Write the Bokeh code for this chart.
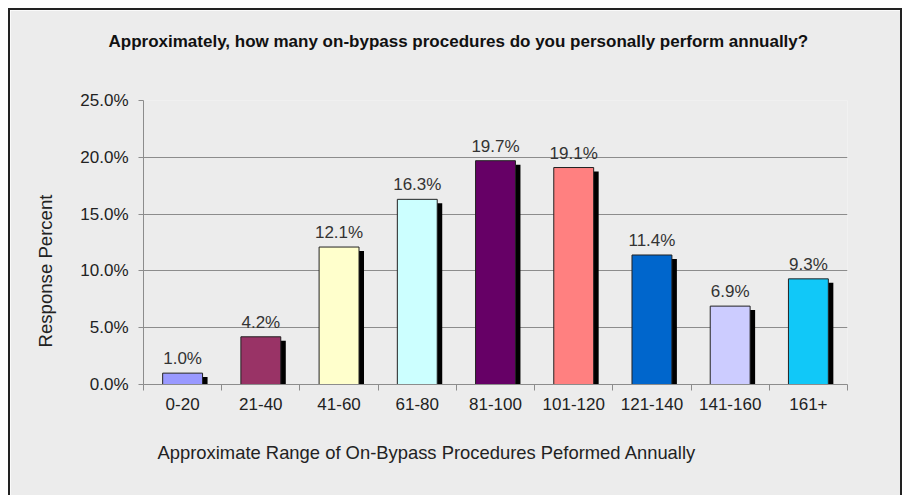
from bokeh.plotting import figure
from bokeh.models import (ColumnDataSource, Range1d, FixedTicker, PrintfTickFormatter, Title)
from bokeh.transform import dodge
from bokeh.embed import file_html
from bokeh.resources import INLINE
from bokeh.core.properties import value

categories = ["0-20", "21-40", "41-60", "61-80", "81-100", "101-120", "121-140", "141-160", "161+"]
percents = [1.0, 4.2, 12.1, 16.3, 19.7, 19.1, 11.4, 6.9, 9.3]
bar_colors = ["#9999ff", "#993366", "#ffffcc", "#ccffff", "#660066", "#ff8080", "#0066cc", "#ccccff", "#11c8f8"]
y_ticks = [0, 5, 10, 15, 20, 25]

FONT = "Liberation Sans"
BG = "#ececec"
GRID = "#8c8c8c"

n = len(categories)
centers = [i + 0.5 for i in range(n)]
bounds = list(range(n + 1))

src = ColumnDataSource(dict(xc=centers, cat=categories, pct=percents, color=bar_colors,
                            lbl=[f"{v:.1f}%" for v in percents]))

p = figure(x_range=Range1d(0, n), y_range=Range1d(0, 25), frame_width=704, frame_height=284,
           min_border_left=133, min_border_right=53, min_border_top=90, min_border_bottom=111,
           output_backend="svg", toolbar_location=None,
           background_fill_color=BG, border_fill_color=BG)
p.outline_line_color = None
p.styles = {"border-top": "2px solid #222", "border-left": "2px solid #222",
            "border-right": "2px solid #222", "margin": "8px 0 0 8px"}

p.title.text = "Approximately, how many on-bypass procedures do you personally perform annually?"
p.title.align = "left"
p.title.offset = -35
p.title.standoff = 39
p.title.text_font = FONT
p.title.text_font_size = "17px"
p.title.text_font_style = "bold"
p.title.text_color = "#111"

# blank spacer between the plot frame and the title
spacer = Title(text=" ", standoff=17, text_font=FONT, text_font_size="10px")
p.add_layout(spacer, "above")

xa = p.xaxis[0]
xa.ticker = FixedTicker(ticks=centers, minor_ticks=bounds)
xa.major_label_overrides = {c: lab for c, lab in zip(centers, categories)}
xa.axis_line_color = GRID
xa.major_tick_line_color = None
xa.minor_tick_line_color = GRID
xa.minor_tick_out = 6
xa.minor_tick_in = 0
xa.major_label_text_font = FONT
xa.major_label_text_font_size = "17px"
xa.major_label_text_color = "#222"
xa.major_label_standoff = 7

ya = p.yaxis[0]
ya.ticker = FixedTicker(ticks=y_ticks)
ya.formatter = PrintfTickFormatter(format="%.1f%%")
ya.axis_line_color = GRID
ya.major_tick_line_color = GRID
ya.major_tick_out = 5
ya.major_tick_in = 0
ya.minor_tick_line_color = None
ya.major_label_text_font = FONT
ya.major_label_text_font_size = "17px"
ya.major_label_text_color = "#222"
ya.major_label_standoff = 10

p.xgrid.grid_line_color = None
p.ygrid.grid_line_color = GRID
p.ygrid.ticker = FixedTicker(ticks=y_ticks)

# shadows
p.vbar(x=dodge("xc", 0.064), top=dodge("pct", -0.35), bottom=0, width=0.51,
       source=src, fill_color="#000000", line_color=None)
# bars
p.vbar(x="xc", top="pct", bottom=0, width=0.51, source=src,
       fill_color="color", line_color="#222", line_width=1)

p.text(x="xc", y="pct", text="lbl", source=src, text_align="center", text_baseline="bottom",
       y_offset=-5, text_font=value(FONT), text_font_size="17px", text_color="#333")

yt = Title(text="Response Percent", align="left", offset=37, standoff=43,
           text_font=FONT, text_font_size="18.6px", text_font_style="normal", text_color="#222")
p.add_layout(yt, "left")

xt = Title(text="Approximate Range of On-Bypass Procedures Peformed Annually", align="left",
           offset=14, standoff=54, text_font=FONT, text_font_size="18.4px",
           text_font_style="normal", text_color="#222")
p.add_layout(xt, "below")

open("out.html", "w").write(file_html(p, INLINE))
